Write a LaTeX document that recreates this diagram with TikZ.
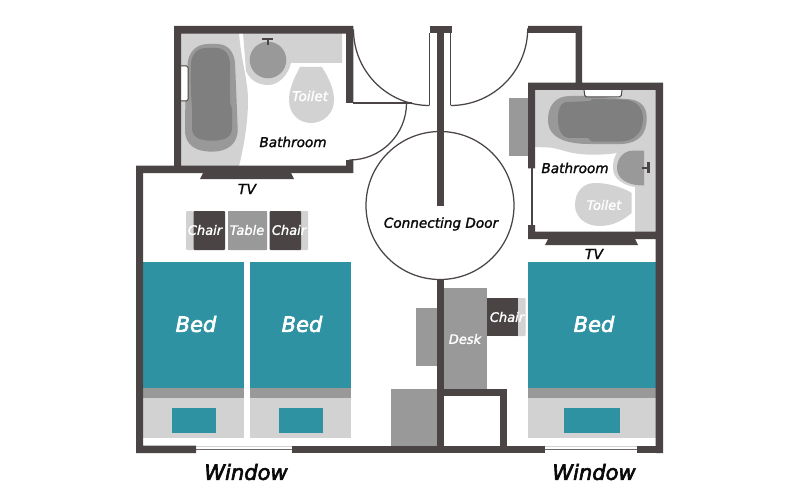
\documentclass[tikz,border=0pt]{standalone}
\usepackage{fontspec}
\setmainfont{DejaVu Sans}
\newfontfamily\planfont[FakeBold=1.6]{DejaVu Sans Oblique}
\newfontfamily\planheavy[FakeBold=3]{DejaVu Sans Oblique}
\definecolor{wall}{HTML}{4A4444}
\definecolor{teal}{HTML}{2E92A3}
\definecolor{midg}{HTML}{999999}
\definecolor{lite}{HTML}{D2D2D2}
\definecolor{tubd}{HTML}{7F7F7F}
\tikzset{
 wallfill/.style={fill=wall,draw=none},
 thin line/.style={draw=wall,line width=1.25pt},
 lbl/.style={font=\planfont\fontsize{#1}{#1}\selectfont,text=black!85!wall,inner sep=0pt},
 wlbl/.style={font=\planfont\fontsize{#1}{#1}\selectfont,text=white,inner sep=0pt},
 biglbl/.style={font=\planheavy\fontsize{21}{21}\selectfont,text=#1,inner sep=0pt},
 lite fill/.style={fill=lite,draw=none},
 mid fill/.style={fill=midg,draw=none},
 dark fill/.style={fill=tubd,draw=none},
 teal fill/.style={fill=teal,draw=none},
}
\begin{document}
\begin{tikzpicture}[x=1pt,y=-1pt]
\useasboundingbox (0,0) rectangle (800,500);
\fill[white] (0,0) rectangle (800,500);
% left bathroom floor
\fill[lite fill] (181,33) -- (239,33) .. controls (241,60) and (248,80) .. (248,100) .. controls (248,125) and (243,150) .. (239,166) -- (181,166) -- cycle;
\fill[lite fill] (243,33) -- (342,33) -- (342,63) -- (291,63) .. controls (288,76) and (278,85) .. (268,85) .. controls (258,85) and (250,80) .. (246,71) .. controls (245,58) and (244,45) .. (243,33) -- cycle;
% left tub
\fill[mid fill] (208,44) -- (217,44) .. controls (228,44) and (234,52) .. (235,63) .. controls (236,85) and (237,110) .. (237.7,130) .. controls (237.5,145) and (226,151.7) .. (212,151.7) .. controls (197,151.7) and (185,146) .. (185,130) .. controls (185,105) and (186,85) .. (187.7,63) .. controls (189,52) and (196,44) .. (208,44) -- cycle;
\fill[dark fill] (206,48) -- (216,48) .. controls (225,48) and (230,55) .. (230,65) -- (230,103) .. controls (230,106) and (232,106) .. (232,109) -- (232,128) .. controls (232,137) and (225,140.7) .. (212,140.7) .. controls (199,140.7) and (192,137) .. (192,128) -- (192,106) .. controls (190.5,90) and (190.5,75) .. (191,65) .. controls (191,55) and (197,48) .. (206,48) -- cycle;
\draw[wall,fill=white,line width=1pt,rounded corners=1.5pt] (181,66) -- (188,66) -- (188,101) -- (181,101);
% sink left
\fill[mid fill] (268,60) circle (18.3);
\fill[wall] (262,38) rectangle (273,40.5);
\fill[wall] (267,38) rectangle (269,45);
% toilet left
\fill[lite fill] (300,67) -- (322,67) .. controls (330,80) and (334,90) .. (334,100) .. controls (334,114) and (323,123) .. (311,123) .. controls (299,123) and (289,114) .. (289,100) .. controls (289,90) and (293,80) .. (300,67) -- cycle;
% right bathroom floor
\fill[lite fill] (535,90) -- (656,90) -- (656,232) -- (635,232) -- (635,187) .. controls (622,185) and (613,178) .. (613,168) .. controls (613,162) and (614,157) .. (617,153) .. controls (605,155) and (585,155.5) .. (573,153) .. controls (563,151) and (555,147.5) .. (548,147.5) -- (535,147) -- cycle;
% right tub
\fill[mid fill] (570,96) -- (590,96) -- (625,99) .. controls (640,99) and (646.7,106) .. (646.7,118) .. controls (646.7,135) and (638,143) .. (622,144) -- (590,144) .. controls (570,144) and (548,140) .. (548,120) .. controls (548,105) and (556,96) .. (570,96) -- cycle;
\fill[dark fill] (568,102) -- (590,101) -- (592,99) -- (622,99.5) .. controls (636,99.5) and (643,108) .. (643,118) .. controls (643,133) and (634,141) .. (620,141.7) -- (592,141.7) -- (588,138) -- (570,138) .. controls (562,138) and (558,130) .. (558,120) .. controls (558,110) and (560,102) .. (568,102) -- cycle;
\draw[wall,fill=white,line width=1pt,rounded corners=1.5pt] (584,90) -- (585,97) -- (621,97) -- (622,90);
% sink right
\fill[mid fill] (644,150.7) -- (632,150.7) .. controls (624,151) and (617,158) .. (617,168) .. controls (617,178) and (626,185.5) .. (644,185.5) -- cycle;
\fill[wall] (642,166.7) rectangle (648,168.7);
\fill[wall] (647,162) rectangle (649.5,173);
% toilet right
\fill[lite fill] (595,183) .. controls (608,183) and (622,187) .. (631.7,193) -- (631.7,213) .. controls (624,219) and (615,225.7) .. (600,226) .. controls (585,226) and (575,217) .. (575,205) .. controls (575,192) and (583,183) .. (595,183) -- cycle;
% outside grey boxes
\fill[mid fill] (509,98) rectangle (528,156);
\fill[mid fill] (416,308) rectangle (437,366);
\fill[mid fill] (391,389) rectangle (437,446);
\fill[mid fill] (444,288) rectangle (487,388.7);
% table and chairs
\fill[lite fill,rounded corners=1pt] (186,211) rectangle (200,250);
\fill[wall,rounded corners=1pt] (193.5,211) rectangle (225,250);
\fill[mid fill,rounded corners=.6pt] (228,211) rectangle (267,250);
\fill[lite fill,rounded corners=1pt] (295,211) rectangle (308,250);
\fill[wall,rounded corners=1pt] (269.5,211) rectangle (301,250);
\fill[lite fill,rounded corners=1pt] (512,298) rectangle (525.7,336);
\fill[wall] (487,298) rectangle (518,336);
% beds
\foreach \a/\b/\p in {143/244/171.7,250/351/278.7}{
 \fill[teal fill] (\a,262) rectangle (\b,388);
 \fill[mid fill] (\a,388) rectangle (\b,398);
 \fill[lite fill] (\a,398) rectangle (\b,437.7);
 \fill[teal fill] (\p,407.7) rectangle ++(44,25);
}
\fill[teal fill] (528,262) rectangle (656,388);
\fill[mid fill] (528,388) rectangle (656,398);
\fill[lite fill] (528,398) rectangle (656,437.7);
\fill[teal fill] (564,407.7) rectangle (620,432.7);
% walls
\fill[wallfill] (174,26) -- (353.3,26) -- (353.3,103) -- (346,103) -- (346,33.7) -- (181,33.7) -- (181,165.7) -- (346,165.7) -- (346,160) -- (353.3,160) -- (353.3,173) -- (143,173) -- (143,445.7) -- (196,445.7) -- (196,453) -- (136,453) -- (136,165.7) -- (174,165.7) -- cycle;
\fill[wallfill] (292,445.7) rectangle (545,453);
\fill[wallfill] (637,445.7) rectangle (663,453);
\fill[wallfill] (429.5,26) rectangle (451.7,33);
\fill[wallfill] (436.7,26) rectangle (443.7,206);
\fill[wallfill] (436.7,279) rectangle (444,453);
\fill[wallfill] (444,388.7) rectangle (507,396);
\fill[wallfill] (500,388.7) rectangle (507,446);
\fill[wallfill] (528,26) -- (582,26) -- (582,82.7) -- (663,82.7) -- (663,453) -- (655.7,453) -- (655.7,239) -- (528,239) -- (528,225) -- (535,225) -- (535,231.7) -- (655.7,231.7) -- (655.7,90) -- (535,90) -- (535,168.3) -- (528,168.3) -- (528,82.7) -- (575.7,82.7) -- (575.7,33) -- (528,33) -- cycle;
% TVs
\fill[wallfill] (203,173) -- (291,173) -- (294,179) -- (200,179) -- cycle;
\fill[wallfill] (548,239) -- (635,239) -- (638,245) -- (545,245) -- cycle;
% thin lines
\draw[thin line] (532,168) -- (532,226);
\draw[thin line] (429.5,33) -- (429.5,105);
\draw[thin line] (450.7,33) -- (450.7,105);
\draw[thin line] (353,103) -- (412,103);
\draw[thin line] (429.5,105.5) arc[start angle=90,end angle=180,radius=76] ;
\draw[thin line] (450.7,105.5) arc[start angle=90,end angle=0,radius=77];
\draw[thin line] (406.5,103) arc[start angle=0,end angle=90,radius=57];
\coordinate (cc) at (440,205.5);
\draw[thin line] (cc) circle (74);
% windows
\draw[lite,line width=.7pt] (196,446.4) -- (292,446.4) (545,446.4) -- (637,446.4);
\draw[wall!80!white,line width=1.2pt] (196,449.4) -- (292,449.4) (545,449.4) -- (637,449.4);
% labels
\node[lbl=13.6] (bathL) at (293,142) {Bathroom};
\node[lbl=13.6] (bathR) at (575,168) {Bathroom};
\node[wlbl=13.5] (toiL) at (310,96) {Toilet};
\node[wlbl=13] (toiR) at (604,205) {Toilet};
\node[lbl=14] (tvL) at (247,189) {TV};
\node[lbl=14] (tvR) at (594,254) {TV};
\node[lbl=13.6] (door) at (441,224) {Connecting Door};
\node[wlbl=13] (ch1) at (205,230) {Chair};
\node[wlbl=13] (tab) at (247,230) {Table};
\node[wlbl=13] (ch2) at (289,230) {Chair};
\node[wlbl=13] (ch3) at (507,317) {Chair};
\node[wlbl=13] (desk) at (465,339) {Desk};
\node[biglbl=white] (bed1) at (196,324) {Bed};
\node[biglbl=white] (bed2) at (302,324) {Bed};
\node[biglbl=white] (bed3) at (594,324) {Bed};
\node[biglbl=black!85!wall] (winL) at (246,472) {Window};
\node[biglbl=black!85!wall] (winR) at (594,472) {Window};
\end{tikzpicture}
\end{document}
